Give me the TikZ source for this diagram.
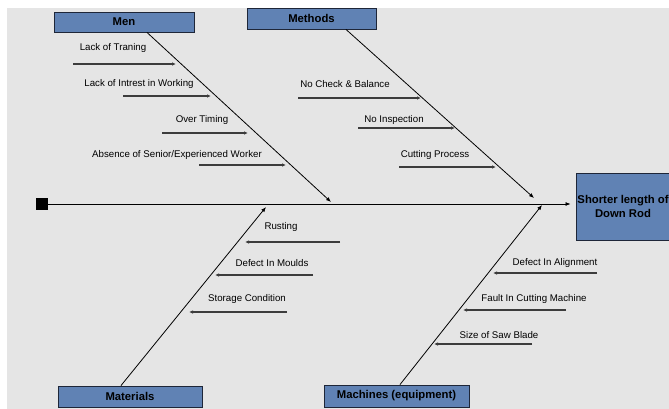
\documentclass[tikz,border=0pt]{standalone}
\usepackage{fontspec}
\setmainfont{Liberation Sans}
\usetikzlibrary{arrows.meta}
\definecolor{catblue}{RGB}{96,130,180}
\definecolor{catedge}{RGB}{30,38,56}
\definecolor{bggray}{RGB}{229,229,229}
\definecolor{subgray}{RGB}{60,60,60}
\begin{document}
\begin{tikzpicture}[x=1pt,y=-1pt,
  cat/.style={draw=catedge, fill=catblue, line width=0.9pt, inner sep=0pt,
    font=\bfseries\fontsize{11.3}{13.5}\selectfont},
  cause/.style={inner sep=0pt, font=\fontsize{9.7}{11}\selectfont},
  bone/.style={draw=black, line width=0.8pt, -{Latex[length=5pt,width=4pt]}},
  sub/.style={draw=subgray, line width=1.1pt, -{Latex[length=4pt,width=3.5pt]}}]
\useasboundingbox (0,0) rectangle (669,409);
\clip (0,0) rectangle (669,409);
\fill[bggray] (7,8) rectangle (669,409);

% category boxes
\node[cat, minimum width=140pt, minimum height=20pt] (men) at (124,22) {Men};
\node[cat, minimum width=129pt, minimum height=21pt] (methods) at (311.5,18.5) {Methods};
\node[cat, minimum width=144pt, minimum height=21pt] (materials) at (130,396.5) {Materials};
\node[cat, minimum width=145pt, minimum height=22pt] (machines) at (396.5,396) {Machines (equipment)};
\node[cat, minimum width=94pt, minimum height=67pt, align=center] (effect) at (623,206.5) {Shorter length of\\Down Rod};

% spine
\node[fill=black, minimum size=12pt, inner sep=0pt] (sq) at (42,204) {};
\draw[bone, shorten >=5pt] (sq.east) -- (effect.west |- sq.east);

% bone ends
\coordinate (menT) at (331,202);
\coordinate (metT) at (534,198);
\coordinate (matT) at (266,207);
\coordinate (macT) at (542,205);
\draw[bone] ([xshift=23pt]men.south) -- (menT);
\draw[bone] ([xshift=34.5pt]methods.south) -- (metT);
\draw[bone] ([xshift=-9pt]materials.north) -- (matT);
\draw[bone] ([xshift=3.5pt]machines.north) -- (macT);

% Men causes
\node[cause] (m1) at (113,48) {Lack of Traning};
\coordinate (m1a) at (73,64); \coordinate (m1b) at (176,64);
\draw[sub] (m1a) -- (m1b);
\node[cause] (m2) at (139,84) {Lack of Intrest in Working};
\coordinate (m2a) at (123,96); \coordinate (m2b) at (211,96);
\draw[sub] (m2a) -- (m2b);
\node[cause] (m3) at (202,120) {Over Timing};
\coordinate (m3a) at (162,133); \coordinate (m3b) at (248,133);
\draw[sub] (m3a) -- (m3b);
\node[cause] (m4) at (177,155) {Absence of Senior/Experienced Worker};
\coordinate (m4a) at (199,165); \coordinate (m4b) at (286,165);
\draw[sub] (m4a) -- (m4b);

% Methods causes
\node[cause] (t1) at (345,84) {No Check \& Balance};
\coordinate (t1a) at (298,98); \coordinate (t1b) at (421,98);
\draw[sub] (t1a) -- (t1b);
\node[cause] (t2) at (394,120) {No Inspection};
\coordinate (t2a) at (358,128); \coordinate (t2b) at (455,128);
\draw[sub] (t2a) -- (t2b);
\node[cause] (t3) at (435,155) {Cutting Process};
\coordinate (t3a) at (399,167); \coordinate (t3b) at (496,167);
\draw[sub] (t3a) -- (t3b);

% Materials causes
\node[cause] (a1) at (281,227) {Rusting};
\coordinate (a1a) at (340,242); \coordinate (a1b) at (245,242);
\draw[sub] (a1a) -- (a1b);
\node[cause] (a2) at (272,263) {Defect In Moulds};
\coordinate (a2a) at (313,275); \coordinate (a2b) at (215,275);
\draw[sub] (a2a) -- (a2b);
\node[cause] (a3) at (247,299) {Storage Condition};
\coordinate (a3a) at (287,312); \coordinate (a3b) at (189,312);
\draw[sub] (a3a) -- (a3b);

% Machines causes
\node[cause] (c1) at (555,263) {Defect In Alignment};
\coordinate (c1a) at (597,273); \coordinate (c1b) at (493,273);
\draw[sub] (c1a) -- (c1b);
\node[cause] (c2) at (534,299) {Fault In Cutting Machine};
\coordinate (c2a) at (566,310); \coordinate (c2b) at (463,310);
\draw[sub] (c2a) -- (c2b);
\node[cause] (c3) at (499,335) {Size of Saw Blade};
\coordinate (c3a) at (532,344); \coordinate (c3b) at (434,344);
\draw[sub] (c3a) -- (c3b);
\end{tikzpicture}
\end{document}
